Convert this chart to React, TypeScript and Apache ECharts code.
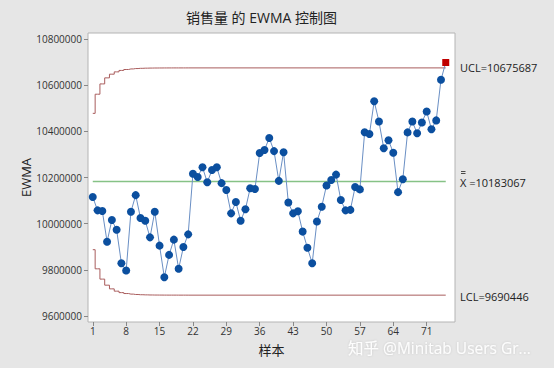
import React, { useEffect, useRef } from "react";
import * as echarts from "echarts";

const ewma: number[] = [
  10116000, 10058000, 10055000, 9922000, 10016000, 9974000, 9829000, 9797000, 10052000, 10124000,
  10025000, 10013000, 9941000, 10052000, 9905000, 9768000, 9865000, 9931000, 9805000, 9899000,
  9954000, 10217000, 10203000, 10245000, 10180000, 10233000, 10245000, 10176000, 10146000, 10045000,
  10094000, 10013000, 10063000, 10154000, 10151000, 10307000, 10320000, 10372000, 10315000, 10186000,
  10310000, 10092000, 10045000, 10054000, 9966000, 9896000, 9829000, 10010000, 10074000, 10166000,
  10190000, 10213000, 10103000, 10058000, 10060000, 10159000, 10149000, 10397000, 10389000, 10531000,
  10443000, 10327000, 10362000, 10308000, 10137000, 10193000, 10396000, 10443000, 10392000, 10439000,
  10487000, 10410000, 10448000, 10624000, 10699000,
];

const CL = 10183067;
const UCL = 10675687;
const LCL = 9690446;

const uclSteps: number[] = [
  10478639, 10561579, 10606223, 10632465, 10648489, 10658460, 10664731, 10668706, 10671229, 10672840,
  10673864, 10674524, 10674943, 10675210, 10675382, 10675490, 10675564, 10675608, 10675638, 10675654,
];
const lclSteps: number[] = [
  9887495, 9804555, 9759911, 9733669, 9717645, 9707674, 9701403, 9697428, 9694905, 9693294,
  9692270, 9691610, 9691191, 9690924, 9690752, 9690644, 9690570, 9690526, 9690496, 9690480,
];

const xTicks: number[] = [1, 8, 15, 22, 29, 36, 43, 50, 57, 64, 71];
const yTicks: number[] = [9600000, 9800000, 10000000, 10200000, 10400000, 10600000, 10800000];

const FONT = "'Open Sans', 'Noto Sans CJK SC', sans-serif";

export default function App() {
  const ref = useRef<HTMLDivElement>(null);
  useEffect(() => {
    if (!ref.current) return;
    const chart = echarts.init(ref.current, undefined, { renderer: "svg" });
    const n = ewma.length;
    const stepData = (steps: number[], last: number) => {
      const d: number[][] = steps.map((v, i) => [i + 1, v]);
      d.push([steps.length + 1, last]);
      d.push([n, last]);
      return d;
    };
    const pts = ewma.map((v, i) => {
      const out = v > UCL || v < LCL;
      return out
        ? { value: [i + 1, v], symbol: "rect", symbolSize: 7, itemStyle: { color: "#c00000" } }
        : { value: [i + 1, v] };
    });
    chart.setOption({
      animation: false,
      backgroundColor: "#e6e6e6",
      textStyle: { fontFamily: FONT },
      grid: {
        left: 88,
        right: 99,
        top: 33,
        bottom: 46,
        show: true,
        backgroundColor: "#ffffff",
        borderColor: "#b4b4b4",
        borderWidth: 1,
      },
      xAxis: {
        type: "value",
        min: 0,
        max: 76.94,
        name: "样本",
        nameLocation: "middle",
        nameGap: 21,
        nameMoveOverlap: false,
        nameTextStyle: { fontSize: 13, color: "#222", fontFamily: FONT },
        axisLine: { show: false },
        splitLine: { show: false },
        axisTick: { show: true, customValues: xTicks, length: 4, lineStyle: { color: "#888" } },
        axisLabel: { customValues: xTicks, fontSize: 10, color: "#333", margin: 4, fontFamily: FONT },
      },
      yAxis: {
        type: "value",
        min: 9574000,
        max: 10827000,
        name: "EWMA",
        nameLocation: "middle",
        nameGap: 56,
        nameMoveOverlap: false,
        nameTextStyle: { fontSize: 13, color: "#222", fontFamily: FONT },
        axisLine: { show: false },
        splitLine: { show: false },
        axisTick: { show: true, customValues: yTicks, length: 4, lineStyle: { color: "#888" } },
        axisLabel: {
          customValues: yTicks,
          fontSize: 10,
          color: "#333",
          margin: 6,
          fontFamily: FONT,
          formatter: (v: number) => String(Math.round(v)),
        },
      },
      graphic: [
        {
          type: "text",
          style: {
            text: "销售量 的 EWMA 控制图",
            x: 261.5,
            y: 17,
            align: "center",
            verticalAlign: "middle",
            fontSize: 14,
            fill: "#222",
            fontFamily: FONT,
          },
        },
        {
          type: "text",
          style: { text: "UCL=10675687", x: 460, y: 67.5, verticalAlign: "middle", fontSize: 11, fill: "#222", fontFamily: FONT },
        },
        { type: "line", shape: { x1: 461, y1: 171.5, x2: 465.5, y2: 171.5 }, style: { stroke: "#222", lineWidth: 0.8 } },
        { type: "line", shape: { x1: 461, y1: 173.5, x2: 465.5, y2: 173.5 }, style: { stroke: "#222", lineWidth: 0.8 } },
        {
          type: "text",
          style: { text: "X =10183067", x: 460, y: 182, verticalAlign: "middle", fontSize: 11, fill: "#222", fontFamily: FONT },
        },
        {
          type: "text",
          style: { text: "LCL=9690446", x: 460, y: 296, verticalAlign: "middle", fontSize: 11, fill: "#222", fontFamily: FONT },
        },
        {
          type: "text",
          style: {
            text: "知乎 @Minitab Users Gr...",
            x: 348,
            y: 348,
            verticalAlign: "middle",
            fontSize: 15.5,
            fill: "rgba(255,255,255,0.92)",
            fontFamily: FONT,
            textShadowColor: "rgba(0,0,0,0.15)",
            textShadowBlur: 2,
          },
        },
      ],
      series: [
        {
          type: "line",
          data: stepData(uclSteps, UCL),
          step: "middle",
          symbol: "none",
          lineStyle: { color: "#a95c5c", width: 1 },
          z: 2,
        },
        {
          type: "line",
          data: stepData(lclSteps, LCL),
          step: "middle",
          symbol: "none",
          lineStyle: { color: "#a95c5c", width: 1 },
          z: 2,
        },
        {
          type: "line",
          data: [[1, CL], [n, CL]],
          symbol: "none",
          lineStyle: { color: "#86c286", width: 1.5 },
          z: 2,
        },
        {
          type: "line",
          data: pts,
          symbol: "circle",
          symbolSize: 8,
          itemStyle: { color: "#0b4f9f" },
          lineStyle: { color: "#6a8fc4", width: 1 },
          z: 3,
        },
      ],
    });
    return () => chart.dispose();
  }, []);
  return <div ref={ref} style={{ width: 554, height: 368, position: "fixed", left: 0, top: 0 }} />;
}
